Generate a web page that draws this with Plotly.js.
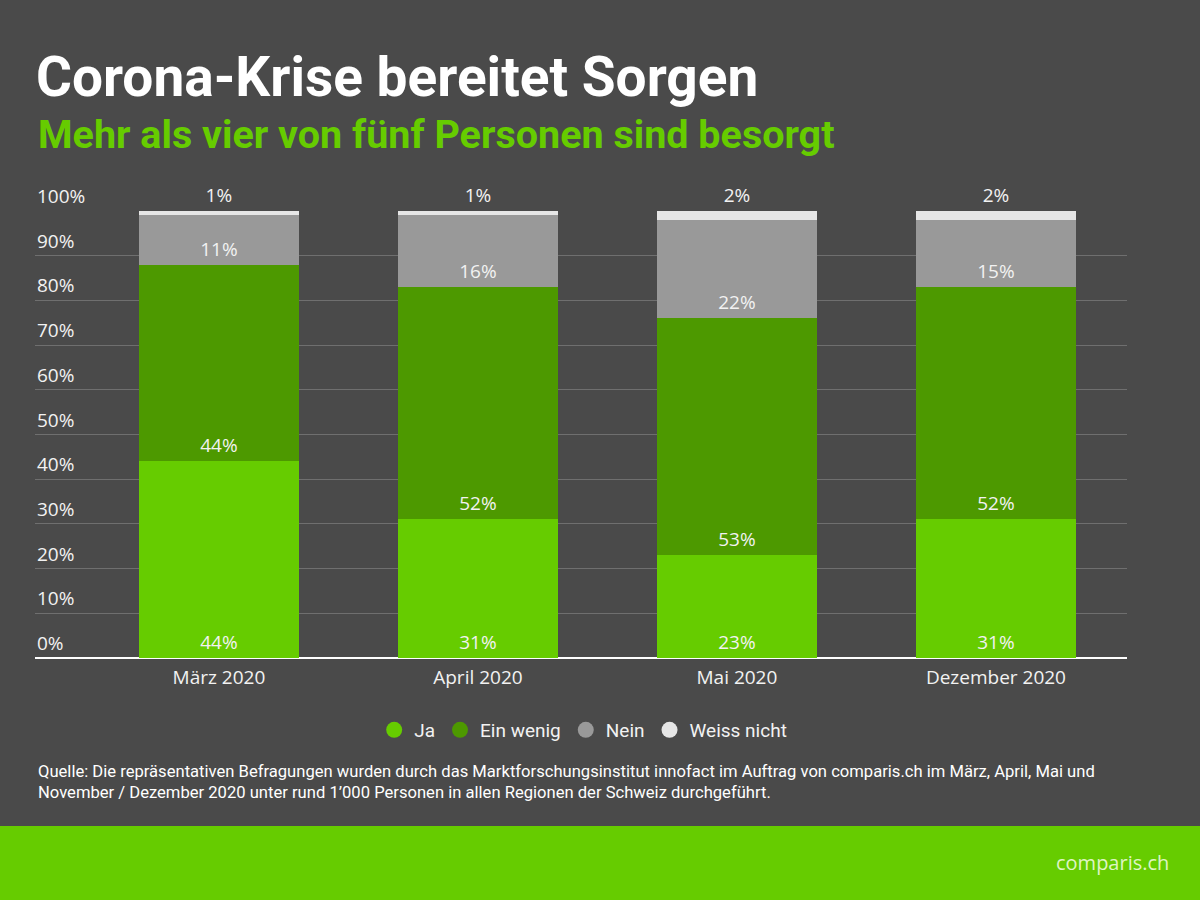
<!DOCTYPE html>
<html>
<head>
<meta charset="utf-8">
<script src="https://cdn.plot.ly/plotly-3.0.1.min.js"></script>
<style>html,body{margin:0;padding:0;background:#4a4a4a;}#chart{width:1200px;height:900px;}</style>
</head>
<body>
<div id="chart"></div>
<script>
const categories = ["März 2020", "April 2020", "Mai 2020", "Dezember 2020"];
const seriesNames = ["Ja", "Ein wenig", "Nein", "Weiss nicht"];
const ja = [44, 31, 23, 31];
const einWenig = [44, 52, 53, 52];
const nein = [11, 16, 22, 15];
const weissNicht = [1, 1, 2, 2];
const yTickVals = [0, 10, 20, 30, 40, 50, 60, 70, 80, 90, 100];
const yTickText = ["0%", "10%", "20%", "30%", "40%", "50%", "60%", "70%", "80%", "90%", "100%"];

const colors = ["#66cc00", "#4d9900", "#999999", "#e6e6e6"];
const seriesValues = [ja, einWenig, nein, weissNicht];
const labelFont = {family: "Open Sans, Noto Sans, sans-serif", size: 19, color: "#f2f2f2"};

const traces = [];
seriesValues.forEach((vals, i) => {
  const isTop = i === seriesValues.length - 1;
  traces.push({
    type: "bar",
    x: categories,
    y: vals,
    name: seriesNames[i],
    marker: {color: colors[i], line: {width: 0}},
    width: 0.618,
    text: vals.map(v => v + "%"),
    textposition: isTop ? "outside" : "inside",
    insidetextanchor: "start",
    constraintext: "none",
    textfont: labelFont,
    outsidetextfont: labelFont,
    insidetextfont: labelFont,
    cliponaxis: false,
    showlegend: false,
    hoverinfo: "skip"
  });
});
seriesNames.forEach((n, i) => {
  traces.push({
    type: "scatter",
    mode: "markers",
    x: [null], y: [null],
    name: n,
    marker: {color: colors[i], size: 16, symbol: "circle"},
    showlegend: true,
    hoverinfo: "skip"
  });
});

const L = 35, R = 73, T = 211, B = 242;
const plotW = 1200 - L - R, plotH = 900 - T - B;
const px2x = p => (p - L) / plotW;
const px2y = p => (900 - B - p) / plotH;

const annotations = yTickVals.map((v, i) => ({
  xref: "paper", yref: "y", x: 0, y: v,
  xanchor: "left", yanchor: "bottom", yshift: 0,
  text: yTickText[i], showarrow: false,
  font: {family: "Open Sans, Noto Sans, sans-serif", size: 19, color: "#f2f2f2"}
}));
annotations.push({
  xref: "paper", yref: "paper", x: px2x(36), y: px2y(134),
  xanchor: "left", yanchor: "middle", showarrow: false,
  text: "<b>Mehr als vier von fünf Personen sind besorgt</b>",
  font: {family: "Roboto, sans-serif", size: 39.5, color: "#66cc00"}
});
annotations.push({
  xref: "paper", yref: "paper", x: px2x(36), y: px2y(771),
  xanchor: "left", yanchor: "middle", showarrow: false,
  text: "Quelle: Die repräsentativen Befragungen wurden durch das Marktforschungsinstitut innofact im Auftrag von comparis.ch im März, April, Mai und",
  font: {family: "Roboto, sans-serif", size: 16.6, color: "#ffffff"}
});
annotations.push({
  xref: "paper", yref: "paper", x: px2x(36), y: px2y(792),
  xanchor: "left", yanchor: "middle", showarrow: false,
  text: "November / Dezember 2020 unter rund 1’000 Personen in allen Regionen der Schweiz durchgeführt.",
  font: {family: "Roboto, sans-serif", size: 16.6, color: "#ffffff"}
});
annotations.push({
  xref: "paper", yref: "paper", x: px2x(1171), y: px2y(862),
  xanchor: "right", yanchor: "middle", showarrow: false,
  text: "comparis.ch",
  font: {family: "Open Sans, sans-serif", size: 20, color: "#dff5c4"}
});

const layout = {
  width: 1200, height: 900,
  margin: {l: L, r: R, t: T, b: B, pad: 0},
  paper_bgcolor: "#4a4a4a",
  plot_bgcolor: "#4a4a4a",
  barmode: "stack",
  bargap: 0,
  title: {
    text: "<b>Corona-Krise bereitet Sorgen</b>",
    xref: "container", yref: "container",
    x: 36 / 1200, xanchor: "left",
    y: 1 - 77 / 900, yanchor: "middle",
    font: {family: "Roboto, sans-serif", size: 55, color: "#ffffff"}
  },
  xaxis: {
    type: "category",
    range: [-0.71, 3.506],
    showgrid: false,
    zeroline: false,
    showline: false,
    ticks: "",
    ticklabelstandoff: 6,
    tickfont: {family: "Open Sans, Noto Sans, sans-serif", size: 19, color: "#f2f2f2"},
    fixedrange: true
  },
  yaxis: {
    range: [0, 100],
    tickvals: yTickVals,
    showticklabels: false,
    showgrid: true,
    gridcolor: "#6f6f6f",
    gridwidth: 1,
    zeroline: true,
    zerolinecolor: "#ffffff",
    zerolinewidth: 2,
    showline: false,
    fixedrange: true
  },
  legend: {
    orientation: "h",
    traceorder: "normal",
    x: 0.502, xanchor: "center",
    y: px2y(730), yanchor: "middle",
    font: {family: "Roboto, sans-serif", size: 19, color: "#f2f2f2"},
    bgcolor: "rgba(0,0,0,0)",
    itemwidth: 30,
    tracegroupgap: 0
  },
  shapes: [{
    type: "rect", xref: "paper", yref: "paper", layer: "below",
    x0: px2x(0), x1: px2x(1200), y0: px2y(900), y1: px2y(826),
    fillcolor: "#66cc00", line: {width: 0}
  }],
  annotations: annotations,
  showlegend: true
};

Plotly.newPlot("chart", traces, layout, {displayModeBar: false, staticPlot: true});
</script>
</body>
</html>
